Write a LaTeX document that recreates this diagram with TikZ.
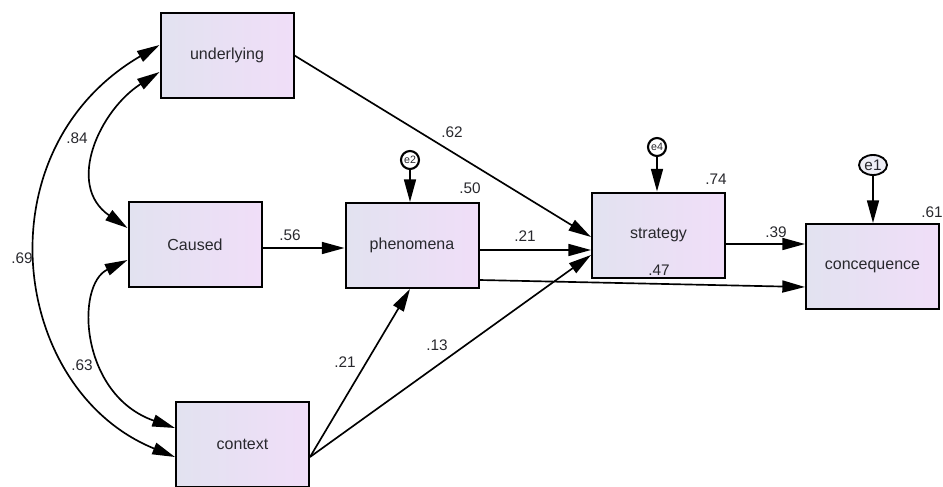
\documentclass[tikz,border=0pt]{standalone}
\usepackage{fontspec}
\setmainfont{Liberation Sans}
\usetikzlibrary{arrows.meta,shapes.geometric,calc}
\definecolor{boxL}{RGB}{226,226,240}
\definecolor{boxR}{RGB}{240,222,248}
\definecolor{txt}{RGB}{40,40,45}
\begin{document}
\begin{tikzpicture}[x=0.75pt,y=-0.75pt,
  box/.style={draw=black, line width=1.5pt, left color=boxL, right color=boxR,
    minimum width=99.75pt, minimum height=63.75pt, inner sep=0pt,
    font=\fontsize{12}{14}\selectfont, text=txt},
  pth/.style={line width=1.25pt, -{Triangle[length=17pt,width=9pt]}},
  cov/.style={line width=1.25pt, {Triangle[length=17pt,width=9pt]}-{Triangle[length=17pt,width=9pt]}},
  lab/.style={font=\fontsize{11.5}{13}\selectfont, text=txt, inner sep=0pt},
  err/.style={circle, draw=black, line width=1.6pt, fill=white, minimum size=13.5pt,
    inner sep=0pt, font=\fontsize{8}{8}\selectfont, text=txt},
  errell/.style={ellipse, draw=black, line width=1.4pt, fill=boxL!60!white, minimum width=21pt,
    minimum height=15pt, inner sep=0pt, font=\fontsize{11.5}{12}\selectfont, text=txt}
]
\useasboundingbox (0,0) rectangle (943,486);

\node[box] (underlying) at (227,55.5) {underlying};
\node[box] (Caused) at (195,244.5) {Caused};
\node[box] (phenomena) at (412,245.5) {phenomena};
\node[box] (strategy) at (658.5,235) {strategy};
\node[box] (concequence) at (872.5,266.5) {concequence};
\node[box] (context) at (242.5,444) {context};

\node[err] (e2) at (410,160) {e2};
\node[err] (e4) at (657,147) {e4};
\node[errell] (e1) at (873,165) {e1};

% paths
\draw[pth] (underlying.east) -- ($(strategy.west)+(0,2)$);
\draw[pth] ($(Caused.east)+(0,3.5)$) -- ($(phenomena.west)+(0,2.5)$);
\draw[pth] ($(phenomena.east)+(0,4.5)$) -- ($(strategy.west)+(0,15)$);
\draw[pth] ($(phenomena.east)+(0,34.5)$) -- ($(concequence.west)+(0,20.5)$);
\draw[pth] ($(strategy.east)+(0,9)$) -- ($(concequence.west)+(0,-22.5)$);
\draw[pth] ($(context.east)+(0,13)$) -- ($(phenomena.south)+(-2,0)$);
\draw[pth] ($(context.east)+(0,13)$) -- ($(strategy.west)+(0,20)$);

\draw[pth] (e2) -- (e2 |- phenomena.north);
\draw[pth] (e4) -- (e4 |- strategy.north);
\draw[pth] (e1) -- (e1 |- concequence.north);

% covariances
\draw[cov] ($(underlying.west)+(0,16.5)$) .. controls (100,110) and (65,185) .. ($(Caused.west)+(0,-16.5)$);
\draw[cov] ($(Caused.west)+(0,15.5)$) .. controls (75,285) and (80,395) .. ($(context.west)+(0,-16)$);
\draw[cov] ($(underlying.west)+(0,-10.5)$) .. controls (-20,150) and (10,390) .. ($(context.west)+(0,13)$);

% labels
\node[lab] (l62) at (452,132) {.62};
\node[lab] (l56) at (290,235) {.56};
\node[lab] (l21a) at (525,236) {.21};
\node[lab] (l47) at (659,270) {.47};
\node[lab] (l39) at (776,232) {.39};
\node[lab] (l21b) at (345,362) {.21};
\node[lab] (l13) at (437,345) {.13};
\node[lab] (l50) at (470,188) {.50};
\node[lab] (l74) at (716,179) {.74};
\node[lab] (l61) at (932,212) {.61};
\node[lab] (l84) at (77,138) {.84};
\node[lab] (l69) at (22,258) {.69};
\node[lab] (l63) at (82,365) {.63};
\end{tikzpicture}
\end{document}
